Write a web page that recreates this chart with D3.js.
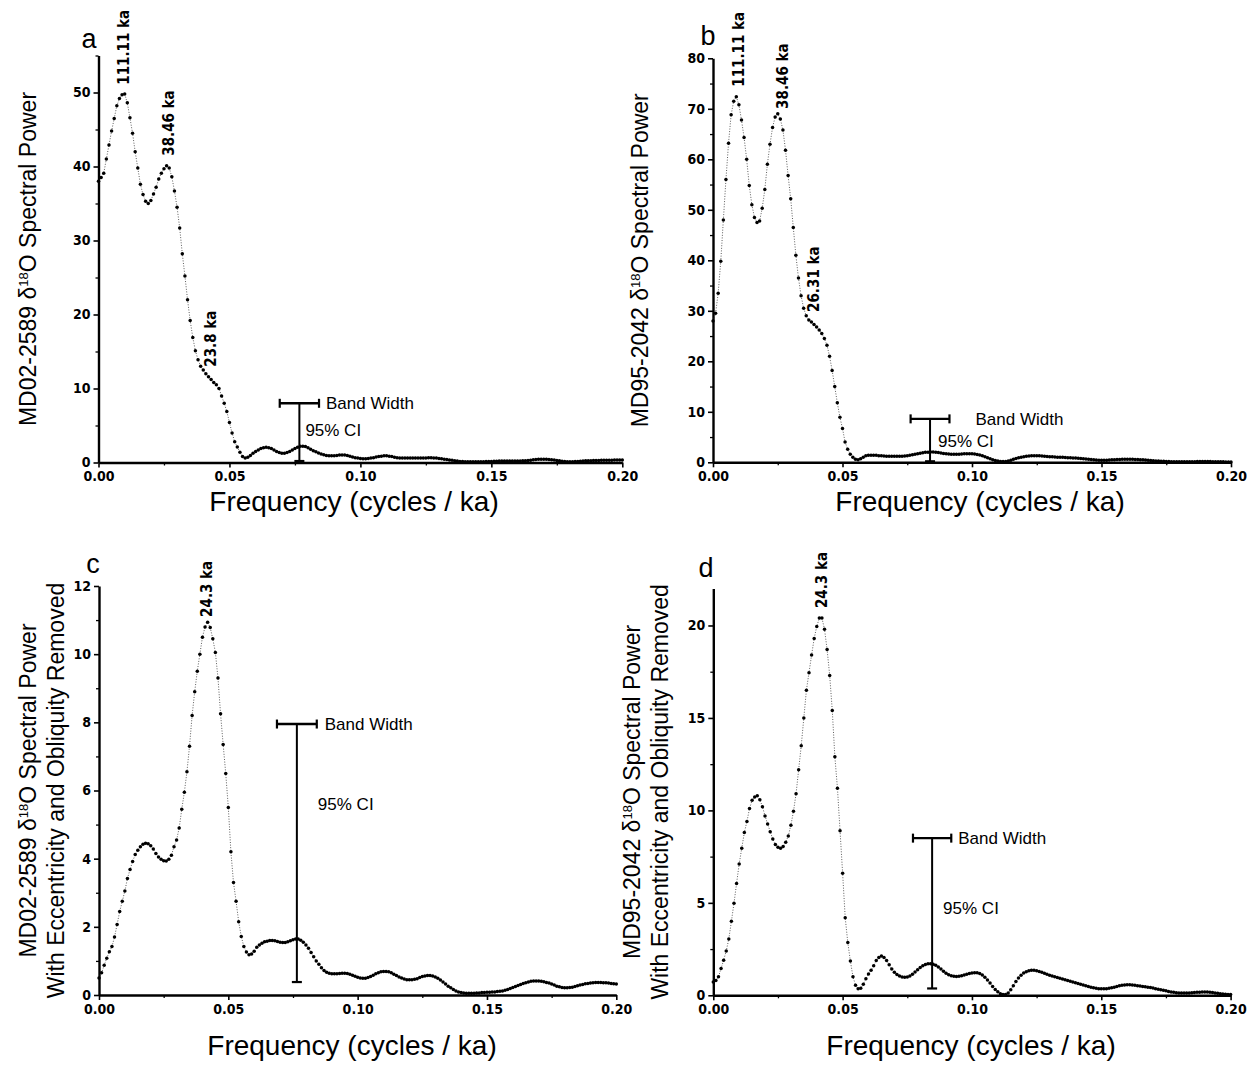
<!DOCTYPE html>
<html>
<head>
<meta charset="utf-8">
<script src="https://cdn.jsdelivr.net/npm/d3@7"></script>
<style>
  html, body { margin: 0; padding: 0; background: #fff; }
  svg { display: block; }
</style>
</head>
<body>
<svg id="fig" width="1247" height="1071"></svg>
<script>
// Spectral estimates are sampled on a uniform frequency grid (cycles / ka)
const FREQ_STEP = 0.001;
const xTickValues = [0, 0.05, 0.10, 0.15, 0.20];
const xMinorTicks = [0.025, 0.075, 0.125, 0.175];

// (a) MD02-2589 δ18O spectral power
const powerA = [
  38.0, 38.5, 39.1, 41.0, 42.9, 44.8, 46.5, 48.2, 49.2, 49.7,
  49.8, 48.6, 46.6, 44.5, 42.0, 39.8, 37.6, 36.2, 35.3, 35.0,
  35.4, 36.3, 37.2, 38.3, 39.1, 39.7, 40.1, 39.8, 38.6, 36.7,
  34.5, 31.7, 28.2, 25.2, 22.0, 19.2, 16.9, 15.1, 13.9, 13.0,
  12.5, 12.0, 11.6, 11.2, 10.8, 10.5, 10.0, 9.0, 8.0, 6.9,
  5.4, 4.0, 2.8, 2.1, 1.4, 0.8, 0.6, 0.7, 0.95, 1.25,
  1.5, 1.7, 1.9, 2.0, 2.05, 2.0, 1.9, 1.7, 1.5, 1.35,
  1.25, 1.25, 1.35, 1.5, 1.7, 1.9, 2.05, 2.2, 2.2, 2.15,
  2.0, 1.8, 1.6, 1.45, 1.3, 1.15, 1.05, 0.95, 0.9, 0.9,
  0.9, 0.95, 1.0, 1.0, 1.0, 0.95, 0.85, 0.75, 0.65, 0.6,
  0.55, 0.5, 0.5, 0.55, 0.6, 0.65, 0.75, 0.8, 0.85, 0.9,
  0.9, 0.85, 0.8, 0.7, 0.65, 0.6, 0.6, 0.6, 0.6, 0.6,
  0.6, 0.6, 0.6, 0.6, 0.6, 0.6, 0.65, 0.65, 0.6, 0.6,
  0.55, 0.5, 0.45, 0.4, 0.35, 0.3, 0.25, 0.2, 0.15, 0.12,
  0.1, 0.1, 0.1, 0.1, 0.1, 0.1, 0.1, 0.1, 0.12, 0.14,
  0.15, 0.16, 0.18, 0.2, 0.2, 0.2, 0.2, 0.2, 0.2, 0.2,
  0.2, 0.2, 0.22, 0.25, 0.28, 0.32, 0.36, 0.4, 0.43, 0.45,
  0.45, 0.44, 0.42, 0.38, 0.33, 0.28, 0.22, 0.17, 0.13, 0.1,
  0.1, 0.1, 0.12, 0.15, 0.18, 0.2, 0.22, 0.24, 0.25, 0.26,
  0.27, 0.28, 0.29, 0.3, 0.3, 0.31, 0.32, 0.33, 0.34, 0.35,
  0.35
];

// (b) MD95-2042 δ18O spectral power
const powerB = [
  28.0, 29.5, 33.5, 39.8, 48.0, 56.0, 63.2, 68.8, 71.5, 72.4,
  70.8, 67.8, 64.3, 60.0, 54.8, 51.0, 48.5, 47.5, 47.8, 50.3,
  54.0, 59.0, 63.0, 66.3, 68.4, 69.0, 68.0, 65.8, 61.8, 56.8,
  52.2, 46.5, 41.0, 36.5, 33.0, 30.5, 29.0, 28.2, 27.8, 27.3,
  26.8, 26.2, 25.5, 24.5, 23.2, 21.0, 18.2, 15.0, 11.8, 8.9,
  6.7, 4.0, 2.6, 1.6, 1.0, 0.6, 0.5, 0.7, 1.0, 1.3,
  1.4, 1.4, 1.4, 1.4, 1.3, 1.3, 1.25, 1.2, 1.2, 1.2,
  1.2, 1.2, 1.2, 1.2, 1.25, 1.3, 1.4, 1.5, 1.6, 1.7,
  1.8, 1.9, 2.0, 2.0, 2.05, 2.05, 2.0, 1.95, 1.85, 1.75,
  1.7, 1.65, 1.6, 1.6, 1.6, 1.6, 1.65, 1.7, 1.7, 1.7,
  1.7, 1.65, 1.55, 1.45, 1.3, 1.1, 0.9, 0.7, 0.5, 0.35,
  0.25, 0.18, 0.15, 0.15, 0.25, 0.4, 0.6, 0.75, 0.9, 1.0,
  1.1, 1.2, 1.25, 1.3, 1.3, 1.3, 1.3, 1.25, 1.2, 1.15,
  1.1, 1.1, 1.05, 1.0, 1.0, 1.0, 0.95, 0.9, 0.9, 0.85,
  0.85, 0.8, 0.75, 0.7, 0.65, 0.6, 0.55, 0.5, 0.45, 0.4,
  0.4, 0.4, 0.4, 0.45, 0.5, 0.5, 0.55, 0.55, 0.6, 0.6,
  0.6, 0.6, 0.6, 0.55, 0.55, 0.5, 0.5, 0.45, 0.4, 0.35,
  0.3, 0.28, 0.25, 0.22, 0.2, 0.18, 0.15, 0.12, 0.1, 0.1,
  0.1, 0.1, 0.1, 0.1, 0.1, 0.1, 0.12, 0.14, 0.15, 0.15,
  0.15, 0.15, 0.14, 0.12, 0.1, 0.1, 0.1, 0.1, 0.08, 0.08,
  0.08
];

// (c) MD02-2589, eccentricity and obliquity removed
const powerC = [
  0.5, 0.65, 0.87, 1.08, 1.27, 1.42, 1.7, 2.07, 2.45, 2.75,
  3.05, 3.42, 3.68, 3.92, 4.12, 4.25, 4.35, 4.42, 4.45, 4.44,
  4.38, 4.28, 4.15, 4.05, 3.98, 3.94, 3.93, 3.98, 4.1, 4.35,
  4.55, 4.9, 5.45, 5.95, 6.55, 7.3, 8.2, 8.9, 9.5, 10.0,
  10.5, 10.8, 10.94, 10.78, 10.45, 10.05, 9.3, 8.25, 7.35, 6.5,
  5.5, 4.2, 3.3, 2.75, 2.15, 1.72, 1.42, 1.26, 1.18, 1.2,
  1.28, 1.4, 1.47, 1.52, 1.56, 1.58, 1.6, 1.6, 1.59, 1.57,
  1.55, 1.54, 1.54, 1.56, 1.59, 1.62, 1.64, 1.64, 1.61, 1.55,
  1.47, 1.37, 1.25, 1.12, 1.0, 0.9, 0.8, 0.72, 0.67, 0.64,
  0.62, 0.62, 0.62, 0.63, 0.64, 0.64, 0.63, 0.61, 0.58, 0.55,
  0.52, 0.5, 0.49, 0.49, 0.51, 0.54, 0.58, 0.62, 0.65, 0.68,
  0.69, 0.69, 0.68, 0.65, 0.61, 0.57, 0.53, 0.5, 0.47, 0.45,
  0.45, 0.45, 0.46, 0.48, 0.51, 0.54, 0.56, 0.57, 0.57, 0.56,
  0.53, 0.49, 0.44, 0.38, 0.32, 0.26, 0.21, 0.16, 0.12, 0.09,
  0.07, 0.06, 0.05, 0.05, 0.05, 0.05, 0.06, 0.06, 0.07, 0.07,
  0.08, 0.08, 0.09, 0.09, 0.1, 0.11, 0.12, 0.14, 0.16, 0.19,
  0.22, 0.25, 0.28, 0.31, 0.34, 0.36, 0.38, 0.4, 0.41, 0.41,
  0.41, 0.4, 0.39, 0.37, 0.35, 0.32, 0.29, 0.26, 0.24, 0.22,
  0.21, 0.21, 0.22, 0.23, 0.25, 0.27, 0.29, 0.31, 0.33, 0.34,
  0.35, 0.36, 0.37, 0.37, 0.37, 0.36, 0.36, 0.35, 0.34, 0.33,
  0.32
];

// (d) MD95-2042, eccentricity and obliquity removed
const powerD = [
  0.72, 0.8, 1.0, 1.45, 1.9, 2.4, 3.05, 4.0, 4.98, 6.05,
  7.1, 7.95, 8.8, 9.4, 10.1, 10.55, 10.72, 10.79, 10.58, 10.2,
  9.7, 9.27, 8.85, 8.45, 8.15, 8.0, 7.95, 8.05, 8.28, 8.62,
  9.2, 9.95, 10.9, 12.2, 13.5, 15.0, 16.5, 17.45, 18.4, 19.3,
  19.95, 20.4, 20.4, 19.8, 18.7, 17.3, 15.4, 12.9, 11.2, 8.9,
  6.6, 4.2, 2.85, 1.85, 1.0, 0.55, 0.36, 0.38, 0.6, 0.9,
  1.15, 1.35, 1.6, 1.88, 2.05, 2.12, 2.05, 1.88, 1.65, 1.42,
  1.25, 1.12, 1.04, 0.99, 0.97, 0.99, 1.05, 1.14, 1.26, 1.38,
  1.5, 1.6, 1.66, 1.7, 1.71, 1.68, 1.62, 1.53, 1.42, 1.3,
  1.19, 1.11, 1.06, 1.03, 1.02, 1.03, 1.06, 1.1, 1.14, 1.18,
  1.21, 1.22, 1.22, 1.18, 1.1, 0.98, 0.83, 0.66, 0.48, 0.32,
  0.19, 0.09, 0.04, 0.04, 0.12, 0.3, 0.52, 0.74, 0.93, 1.08,
  1.2, 1.28, 1.33, 1.35, 1.35, 1.33, 1.29, 1.24, 1.19, 1.14,
  1.09, 1.04, 1.0, 0.96, 0.92, 0.88, 0.84, 0.8, 0.76, 0.72,
  0.68, 0.64, 0.6, 0.56, 0.52, 0.48, 0.44, 0.41, 0.38, 0.36,
  0.35, 0.35, 0.36, 0.38, 0.41, 0.44, 0.48, 0.51, 0.54, 0.56,
  0.57, 0.57, 0.56, 0.54, 0.52, 0.5, 0.48, 0.46, 0.44, 0.42,
  0.39, 0.36, 0.33, 0.3, 0.27, 0.24, 0.21, 0.18, 0.16, 0.14,
  0.13, 0.12, 0.12, 0.12, 0.13, 0.14, 0.15, 0.16, 0.17, 0.18,
  0.18, 0.18, 0.17, 0.15, 0.13, 0.11, 0.09, 0.07, 0.06, 0.05,
  0.05
];

// Labelled spectral peaks (period in ka -> frequency 1/period)
const peaksA = ["111.11", "38.46", "23.8"];
const peaksB = ["111.11", "38.46", "26.31"];
const peaksC = ["24.3"];
const peaksD = ["24.3"];

// 95% confidence interval and band width markers
const ciA = { freq: 0.0767, upper: 8.0, lower: 0.2, halfBand: 0.0075 };
const ciB = { freq: 0.0838, upper: 8.6, lower: 0.2, halfBand: 0.0075 };
const ciC = { freq: 0.0765, upper: 7.95, lower: 0.38, halfBand: 0.0077 };
const ciD = { freq: 0.0846, upper: 8.5, lower: 0.37, halfBand: 0.0074 };

const yTicksA = [0, 10, 20, 30, 40, 50];
const yTicksB = [0, 10, 20, 30, 40, 50, 60, 70, 80];
const yTicksC = [0, 2, 4, 6, 8, 10, 12];
const yTicksD = [0, 5, 10, 15, 20];

const svg = d3.select("#fig");

const TICK_FONT = "'Liberation Sans Narrow', 'Arial Narrow', 'DejaVu Sans Condensed', sans-serif";
const TEXT_FONT = "'Liberation Sans', Arial, Helvetica, sans-serif";

const panels = [
  {
    letter: "a", power: powerA, ymax: 55, yTicks: yTicksA, yStep: 5,
    left: 98.5, right: 622.3, bottom: 462.5, top: 55.5,
    peaks: peaksA, ci: ciA, bwDx: 7, ciDx: 6, ciTextV: 4.4,
    titleLines: ["MD02-2589"], titleX: [28], xTitle: { x: 354, y: 511 },
    letterPos: [89, 48]
  },
  {
    letter: "b", power: powerB, ymax: 80, yTicks: yTicksB, yStep: 5,
    left: 713, right: 1231, bottom: 462.3, top: 58.3,
    peaks: peaksB, ci: ciB, bwDx: 26, ciDx: 8, ciTextV: 4.3,
    titleLines: ["MD95-2042"], titleX: [640], xTitle: { x: 980, y: 511 },
    letterPos: [708, 45]
  },
  {
    letter: "c", power: powerC, ymax: 12, yTicks: yTicksC, yStep: 1,
    left: 99, right: 616.3, bottom: 995, top: 586,
    peaks: peaksC, ci: ciC, bwDx: 8, ciDx: 21, ciTextV: 5.6,
    titleLines: ["MD02-2589", "With Eccentricity and Obliquity Removed"], titleX: [28, 56],
    xTitle: { x: 352, y: 1055 }, letterPos: [93, 573]
  },
  {
    letter: "d", power: powerD, ymax: 22, yTicks: yTicksD, yStep: 2.5,
    left: 713.3, right: 1230.6, bottom: 995.3, top: 588.5,
    peaks: peaksD, ci: ciD, bwDx: 7, ciDx: 11, ciTextV: 4.7,
    titleLines: ["MD95-2042", "With Eccentricity and Obliquity Removed"], titleX: [632, 660],
    xTitle: { x: 971, y: 1055 }, letterPos: [706, 577]
  }
];

function styleAxis(g, major) {
  g.select(".domain").attr("stroke", "#000").attr("stroke-width", 2.4);
  g.selectAll(".tick line").attr("stroke", "#000").attr("stroke-width", major ? 1.6 : 1.3);
  g.selectAll(".tick text")
    .attr("fill", "#000")
    .style("font-family", TICK_FONT)
    .style("font-weight", "bold")
    .style("font-size", "14px");
}

function drawPanel(p) {
  const g = svg.append("g").attr("class", "panel-" + p.letter);
  const x = d3.scaleLinear().domain([0, 0.2]).range([p.left, p.right]);
  const y = d3.scaleLinear().domain([0, p.ymax]).range([p.bottom, p.top]);
  const pts = p.power.map((v, i) => ({ f: i * FREQ_STEP, v }));

  // minor ticks
  const yMinor = d3.range(p.yStep, p.ymax + 1e-9, p.yStep).filter(v => !p.yTicks.includes(v));
  const gyMinor = g.append("g").attr("transform", `translate(${p.left},0)`)
    .call(d3.axisLeft(y).tickValues(yMinor).tickSize(3).tickFormat(""));
  gyMinor.select(".domain").remove();
  styleAxis(gyMinor, false);
  const gxMinor = g.append("g").attr("transform", `translate(0,${p.bottom})`)
    .call(d3.axisBottom(x).tickValues(xMinorTicks).tickSize(3).tickFormat(""));
  gxMinor.select(".domain").remove();
  styleAxis(gxMinor, false);

  // major axes
  const gy = g.append("g").attr("transform", `translate(${p.left},0)`)
    .call(d3.axisLeft(y).tickValues(p.yTicks).tickSize(5).tickSizeOuter(0).tickPadding(3).tickFormat(d3.format("d")));
  styleAxis(gy, true);
  const gx = g.append("g").attr("transform", `translate(0,${p.bottom})`)
    .call(d3.axisBottom(x).tickValues(xTickValues).tickSize(5).tickSizeOuter(0).tickPadding(4).tickFormat(d3.format(".2f")));
  styleAxis(gx, true);

  // connecting dotted line
  const line = d3.line().x(d => x(d.f)).y(d => y(d.v));
  g.append("path").datum(pts)
    .attr("d", line)
    .attr("fill", "none")
    .attr("stroke", "#333")
    .attr("stroke-width", 0.8)
    .attr("stroke-dasharray", "1 1.6");

  // spectral estimate points
  g.append("g").selectAll("circle").data(pts).join("circle")
    .attr("cx", d => x(d.f))
    .attr("cy", d => y(d.v))
    .attr("r", 1.75)
    .attr("fill", "#000");

  // peak period labels
  p.peaks.forEach(period => {
    const f = 1 / (+period);
    const i = Math.round(f / FREQ_STEP);
    const v = p.power[i];
    g.append("text")
      .attr("transform", `translate(${x(i * FREQ_STEP) + 2},${y(v) - 10}) rotate(-90)`)
      .attr("text-anchor", "start")
      .attr("dy", "0.35em")
      .style("font-family", TICK_FONT)
      .style("font-weight", "bold")
      .style("font-size", "15px")
      .text(period + " ka");
  });

  // band width and 95% confidence interval marker
  const c = p.ci;
  const cx = x(c.freq), yTop = y(c.upper), yBot = y(c.lower);
  const bx0 = x(c.freq - c.halfBand), bx1 = x(c.freq + c.halfBand);
  const mk = g.append("g").attr("stroke", "#000").attr("fill", "none");
  mk.append("line").attr("x1", bx0).attr("x2", bx1).attr("y1", yTop).attr("y2", yTop).attr("stroke-width", 2.4);
  mk.append("line").attr("x1", bx0).attr("x2", bx0).attr("y1", yTop - 4.5).attr("y2", yTop + 4.5).attr("stroke-width", 2.2);
  mk.append("line").attr("x1", bx1).attr("x2", bx1).attr("y1", yTop - 4.5).attr("y2", yTop + 4.5).attr("stroke-width", 2.2);
  mk.append("line").attr("x1", cx).attr("x2", cx).attr("y1", yTop).attr("y2", yBot).attr("stroke-width", 2);
  mk.append("line").attr("x1", cx - 5).attr("x2", cx + 5).attr("y1", yBot).attr("y2", yBot).attr("stroke-width", 2.2);

  g.append("text")
    .attr("x", bx1 + p.bwDx).attr("y", yTop).attr("dy", "0.35em")
    .style("font-family", TEXT_FONT).style("font-size", "17px")
    .text("Band Width");
  g.append("text")
    .attr("x", cx + p.ciDx).attr("y", y(p.ciTextV)).attr("dy", "0.35em")
    .style("font-family", TEXT_FONT).style("font-size", "17px")
    .text("95% CI");

  // y-axis title
  const midY = (p.top + p.bottom) / 2;
  p.titleLines.forEach((ln, k) => {
    const t = g.append("text")
      .attr("transform", `translate(${p.titleX[k]},${midY}) rotate(-90)`)
      .attr("text-anchor", "middle")
      .attr("dy", "0.35em")
      .style("font-family", TEXT_FONT)
      .style("font-size", "23px");
    if (k === 0) {
      t.append("tspan").text(ln + " \u03B4");
      t.append("tspan").attr("dy", -8).style("font-size", "13px").text("18");
      t.append("tspan").attr("dy", 8).text("O Spectral Power");
    } else {
      t.text(ln);
    }
  });

  // x-axis title
  g.append("text")
    .attr("x", p.xTitle.x).attr("y", p.xTitle.y)
    .attr("text-anchor", "middle")
    .style("font-family", TEXT_FONT)
    .style("font-size", "28px")
    .text("Frequency (cycles / ka)");

  // panel letter
  g.append("text")
    .attr("x", p.letterPos[0]).attr("y", p.letterPos[1])
    .attr("text-anchor", "middle")
    .style("font-family", TEXT_FONT)
    .style("font-size", "27px")
    .text(p.letter);
}

panels.forEach(drawPanel);
</script>
</body>
</html>
